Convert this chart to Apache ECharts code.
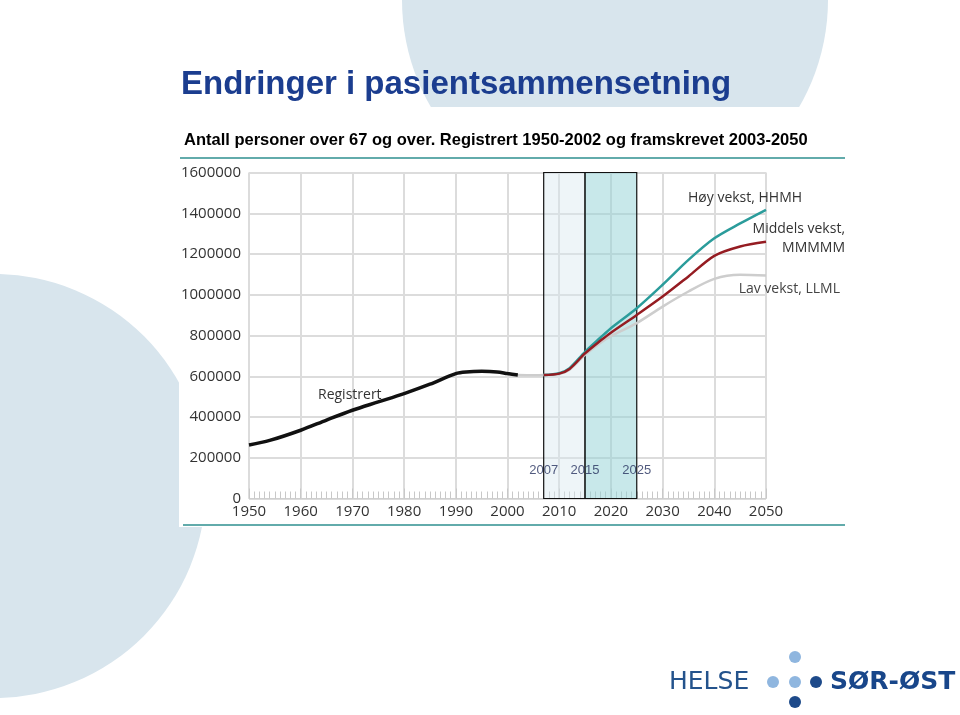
<!DOCTYPE html>
<html><head><meta charset="utf-8">
<script src="https://cdn.jsdelivr.net/npm/echarts@6/dist/echarts.min.js"></script>
<style>html,body{margin:0;padding:0;background:#fff}#c{width:960px;height:715px}</style>
</head><body><div id="c"></div>
<script>
// ---- data ----
const registeredYears  = [1950,1954,1960,1965,1970,1975,1980,1985,1990,1992,1995,1998,2000,2002];
const registeredValues = [263000,285000,335000,385000,433000,474000,515000,561000,613000,621000,624000,621000,613000,606000];
const lowYears   = [2002,2005,2007,2010,2012,2015,2018,2020,2025,2030,2035,2040,2045,2050];
const lowValues  = [606000,605000,606000,611000,632000,705000,765000,797000,861000,942000,1016000,1078000,1098000,1095000];
const branchYears = [2007,2010,2012,2015,2018,2020,2025,2030,2035,2040,2045,2050];
const midValues  = [606000,613000,636000,712000,775000,814000,901000,991000,1090000,1191000,1237000,1260000];
const highValues = [606000,615000,640000,720000,790000,836000,934000,1049000,1171000,1277000,1350000,1417000];
const periodBounds = [2007, 2015, 2025];
const yTickStep = 200000, yMax = 1600000;
const xMin = 1950, xMax = 2050, xStep = 10;
const titleText = "Endringer i pasientsammensetning";
const subtitleText = "Antall personer over 67 og over. Registrert 1950-2002 og framskrevet 2003-2050";
const annHigh = "Høy vekst, HHMH", annMid1 = "Middels vekst,", annMid2 = "MMMMM", annLow = "Lav vekst, LLML", annReg = "Registrert";

const zip = (xs, ys) => xs.map((x, i) => [x, ys[i]]);
const chart = echarts.init(document.getElementById('c'), null, {renderer: 'canvas'});

function txt(text, x, y, font, fill, align, extra) {
  return Object.assign({
    type: 'text', z: 50, silent: true,
    style: {text, x, y, font, fill, textAlign: align || 'left', align: align || 'left',
            textVerticalAlign: 'middle', verticalAlign: 'middle'}
  }, extra || {});
}

const axisFont = '"Open Sans", sans-serif';
const gridColor = '#dcdcdc';

chart.setOption({
  backgroundColor: '#ffffff',
  animation: false,
  grid: {left: 249, right: 960 - 766, top: 172.5, bottom: 715 - 498.5, containLabel: false},
  xAxis: {
    type: 'value', min: xMin, max: xMax, interval: xStep,
    axisLine: {show: true, lineStyle: {color: '#cfcfcf', width: 1}},
    axisTick: {show: true, inside: true, length: 10, lineStyle: {color: '#c8c8c8', width: 1}},
    minorTick: {show: true, splitNumber: 10, length: 7, lineStyle: {color: '#c8c8c8', width: 1}},
    splitLine: {show: true, lineStyle: {color: gridColor, width: 2}},
    axisLabel: {color: '#333', fontSize: 15, fontFamily: axisFont, margin: 6, formatter: v => String(v)}
  },
  yAxis: {
    type: 'value', min: 0, max: yMax, interval: yTickStep,
    axisLine: {show: false}, axisTick: {show: false},
    splitLine: {show: true, lineStyle: {color: gridColor, width: 2}},
    axisLabel: {color: '#333', fontSize: 15, fontFamily: axisFont, margin: 8, formatter: v => String(v)}
  },
  series: [
    {
      name: 'Lav vekst', type: 'line', data: zip(lowYears, lowValues), smooth: 0.3,
      showSymbol: false, lineStyle: {color: '#cdcdcd', width: 2.5}, z: 3,
      markArea: {
        silent: true,
        data: [
          [{xAxis: periodBounds[0], yAxis: 0, itemStyle: {color: 'rgba(215,230,238,0.42)', borderColor: '#111', borderWidth: 1.2}},
           {xAxis: periodBounds[1], yAxis: yMax}],
          [{xAxis: periodBounds[1], yAxis: 0, itemStyle: {color: 'rgba(150,210,215,0.52)', borderColor: '#111', borderWidth: 1.2}},
           {xAxis: periodBounds[2], yAxis: yMax}]
        ]
      }
    },
    {name: 'Høy vekst', type: 'line', data: zip(branchYears, highValues), smooth: 0.3,
     showSymbol: false, lineStyle: {color: '#2b9c9b', width: 2.5}, z: 4},
    {name: 'Middels vekst', type: 'line', data: zip(branchYears, midValues), smooth: 0.3,
     showSymbol: false, lineStyle: {color: '#951c22', width: 2.5}, z: 5},
    {name: 'Registrert', type: 'line', data: zip(registeredYears, registeredValues), smooth: 0.3,
     showSymbol: false, lineStyle: {color: '#111', width: 3.5}, z: 6},
    {name: 'periods', type: 'scatter', symbolSize: 0, z: 10, silent: true,
     data: periodBounds.map(y => [y, 140000]),
     label: {show: true, position: 'inside', formatter: p => String(p.value[0]),
             color: '#27325f', fontSize: 13, fontFamily: '"Liberation Sans", Arial, sans-serif'}}
  ],
  graphic: [
    {type: 'circle', z: -20, silent: true, shape: {cx: -6, cy: 486, r: 212}, style: {fill: '#d8e5ed'}},
    {type: 'circle', z: -20, silent: true, shape: {cx: 615, cy: 0, r: 213}, style: {fill: '#d8e5ed'}},
    {type: 'rect', z: -15, silent: true, shape: {x: 179, y: 107, width: 666, height: 420}, style: {fill: '#ffffff'}},
    {type: 'line', z: 40, silent: true, shape: {x1: 180, y1: 158, x2: 845, y2: 158}, style: {stroke: '#62abab', lineWidth: 2}},
    {type: 'line', z: 40, silent: true, shape: {x1: 183, y1: 525, x2: 845, y2: 525}, style: {stroke: '#62abab', lineWidth: 2}},
    txt(titleText, 181, 85, 'bold 33px "Liberation Sans", Arial, sans-serif', '#1b3d8f'),
    txt(subtitleText, 184, 140, 'bold 16.5px "Liberation Sans", Arial, sans-serif', '#000'),
    txt(annHigh, 688, 198, '14px "Open Sans", sans-serif', '#333'),
    txt(annMid1, 845, 229, '14px "Open Sans", sans-serif', '#333', 'right'),
    txt(annMid2, 845, 248, '14px "Open Sans", sans-serif', '#333', 'right'),
    txt(annLow, 840, 289, '14px "Open Sans", sans-serif', '#444', 'right'),
    txt(annReg, 318, 395, '14px "Open Sans", sans-serif', '#333'),
    // logo
    txt('HELSE', 669, 682, '25px "DejaVu Sans", sans-serif', '#24538c'),
    {type: 'circle', z: 50, silent: true, shape: {cx: 795, cy: 657, r: 6}, style: {fill: '#8fb6df'}},
    {type: 'circle', z: 50, silent: true, shape: {cx: 773, cy: 682, r: 6}, style: {fill: '#8fb6df'}},
    {type: 'circle', z: 50, silent: true, shape: {cx: 795, cy: 682, r: 6}, style: {fill: '#8fb6df'}},
    {type: 'circle', z: 50, silent: true, shape: {cx: 816, cy: 682, r: 6}, style: {fill: '#1d4a8a'}},
    {type: 'circle', z: 50, silent: true, shape: {cx: 795, cy: 702, r: 6}, style: {fill: '#1d4a8a'}},
    txt('SØR-ØST', 830, 682, 'bold 25px "DejaVu Sans", sans-serif', '#18468a')
  ]
});
</script></body></html>
